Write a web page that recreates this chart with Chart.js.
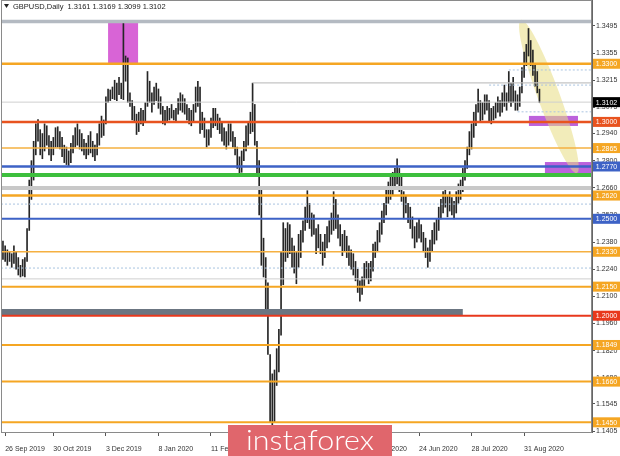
<!DOCTYPE html>
<html>
<head>
<meta charset="utf-8">
<script src="https://cdn.jsdelivr.net/npm/chart.js@4.4.0/dist/chart.umd.min.js"></script>
<style>
  body { margin: 0; background: #fff; }
  canvas { display: block; }
</style>
</head>
<body>
<canvas id="myChart" width="620" height="456"></canvas>
<script>
// daily bars, GBPUSD 25 Sep 2019 .. 8 Sep 2020 (low / high)
let lows = [
    1.2290, 1.2280, 1.2260, 1.2280, 1.2250, 1.2270, 1.2240, 1.2210, 1.2200, 1.2205,
    1.2200, 1.2280, 1.2440, 1.2600, 1.2700, 1.2830, 1.2900, 1.2830, 1.2810, 1.2850,
    1.2880, 1.2830, 1.2800, 1.2830, 1.2870, 1.2870, 1.2860, 1.2820, 1.2790, 1.2780,
    1.2770, 1.2790, 1.2840, 1.2870, 1.2880, 1.2860, 1.2850, 1.2830, 1.2810, 1.2830,
    1.2840, 1.2820, 1.2800, 1.2830, 1.2880, 1.2920, 1.2930, 1.2990, 1.3100, 1.3110,
    1.3120, 1.3115, 1.3110, 1.3140, 1.3120, 1.3115, 1.3210, 1.3100, 1.3080, 1.3010,
    1.3000, 1.2935, 1.2950, 1.2990, 1.2980, 1.3000, 1.3080, 1.3100, 1.3050, 1.3090,
    1.3110, 1.3070, 1.3040, 1.2990, 1.2985, 1.3000, 1.3010, 1.3020, 1.3010, 1.3000,
    1.3040, 1.3060, 1.3050, 1.3040, 1.3010, 1.2990, 1.2980, 1.3000, 1.3050, 1.3080,
    1.2940, 1.2960, 1.2920, 1.2870, 1.2880, 1.2920, 1.2970, 1.2980, 1.2960, 1.2940,
    1.2900, 1.2880, 1.2860, 1.2880, 1.2900, 1.2870, 1.2830, 1.2760, 1.2725, 1.2740,
    1.2800, 1.2850, 1.2880, 1.2940, 1.2950, 1.2880, 1.2730, 1.2520, 1.2260, 1.2200,
    1.2000, 1.1800, 1.1450, 1.1410, 1.1450, 1.1640, 1.1710, 1.1900, 1.2160, 1.2280,
    1.2300, 1.2320, 1.2250, 1.2220, 1.2165, 1.2250, 1.2300, 1.2380, 1.2440, 1.2480,
    1.2450, 1.2410, 1.2420, 1.2320, 1.2350, 1.2320, 1.2260, 1.2300, 1.2350, 1.2380,
    1.2420, 1.2440, 1.2450, 1.2400, 1.2360, 1.2310, 1.2330, 1.2300, 1.2260, 1.2240,
    1.2210, 1.2180, 1.2120, 1.2075, 1.2110, 1.2150, 1.2190, 1.2165, 1.2180, 1.2230,
    1.2300, 1.2330, 1.2380, 1.2420, 1.2480, 1.2520, 1.2580, 1.2600, 1.2620, 1.2650,
    1.2680, 1.2640, 1.2590, 1.2500, 1.2530, 1.2480, 1.2450, 1.2400, 1.2350, 1.2380,
    1.2400, 1.2380, 1.2330, 1.2300, 1.2250, 1.2280, 1.2330, 1.2370, 1.2390, 1.2440,
    1.2500, 1.2530, 1.2560, 1.2510, 1.2540, 1.2520, 1.2500, 1.2530, 1.2580, 1.2600,
    1.2640, 1.2700, 1.2760, 1.2830, 1.2860, 1.2920, 1.2980, 1.3050, 1.3000, 1.3010,
    1.3040, 1.3060, 1.3000, 1.2990, 1.3010, 1.3020, 1.3050, 1.3030, 1.3050, 1.3080,
    1.3060, 1.3100, 1.3080, 1.3100, 1.3060, 1.3060, 1.3080, 1.3150, 1.3230, 1.3290,
    1.3340, 1.3290, 1.3240, 1.3185, 1.3150, 1.3099
];
let highs = [
    1.2385, 1.2360, 1.2340, 1.2330, 1.2320, 1.2360, 1.2330, 1.2300, 1.2260, 1.2290,
    1.2300, 1.2450, 1.2700, 1.2800, 1.2900, 1.2990, 1.3012, 1.2960, 1.2940, 1.2990,
    1.2980, 1.2930, 1.2900, 1.2920, 1.2970, 1.2975, 1.2950, 1.2920, 1.2880, 1.2870,
    1.2850, 1.2890, 1.2930, 1.2970, 1.2990, 1.2960, 1.2940, 1.2910, 1.2890, 1.2930,
    1.2950, 1.2900, 1.2880, 1.2940, 1.2990, 1.3030, 1.3010, 1.3130, 1.3170, 1.3165,
    1.3180, 1.3215, 1.3200, 1.3230, 1.3200, 1.3514, 1.3340, 1.3330, 1.3150, 1.3110,
    1.3080, 1.3040, 1.3050, 1.3070, 1.3060, 1.3100, 1.3260, 1.3210, 1.3150, 1.3180,
    1.3200, 1.3170, 1.3130, 1.3080, 1.3060, 1.3080, 1.3070, 1.3090, 1.3060, 1.3070,
    1.3120, 1.3150, 1.3140, 1.3120, 1.3090, 1.3070, 1.3060, 1.3090, 1.3180, 1.3210,
    1.3180, 1.3050, 1.3020, 1.2960, 1.2960, 1.3020, 1.3070, 1.3070, 1.3040, 1.3020,
    1.3000, 1.2970, 1.2950, 1.2990, 1.2990, 1.2950, 1.2920, 1.2870, 1.2820, 1.2850,
    1.2900, 1.2980, 1.3000, 1.3050, 1.3200, 1.3090, 1.2900, 1.2800, 1.2650, 1.2400,
    1.2300, 1.2170, 1.1800, 1.1700, 1.1720, 1.1830, 1.1930, 1.2330, 1.2480, 1.2450,
    1.2480, 1.2470, 1.2400, 1.2360, 1.2330, 1.2420, 1.2440, 1.2490, 1.2560, 1.2645,
    1.2580, 1.2530, 1.2520, 1.2450, 1.2470, 1.2420, 1.2380, 1.2420, 1.2460, 1.2490,
    1.2530, 1.2640, 1.2600, 1.2520, 1.2470, 1.2420, 1.2440, 1.2410, 1.2360, 1.2340,
    1.2320, 1.2280, 1.2240, 1.2180, 1.2200, 1.2270, 1.2280, 1.2270, 1.2280, 1.2370,
    1.2380, 1.2440, 1.2480, 1.2540, 1.2580, 1.2650, 1.2690, 1.2730, 1.2740, 1.2760,
    1.2810, 1.2760, 1.2730, 1.2640, 1.2620, 1.2580, 1.2560, 1.2510, 1.2460, 1.2480,
    1.2500, 1.2470, 1.2430, 1.2400, 1.2350, 1.2390, 1.2440, 1.2480, 1.2500, 1.2560,
    1.2600, 1.2640, 1.2660, 1.2620, 1.2640, 1.2610, 1.2590, 1.2640, 1.2680, 1.2700,
    1.2760, 1.2800, 1.2870, 1.2950, 1.2990, 1.3050, 1.3090, 1.3170, 1.3110, 1.3100,
    1.3140, 1.3140, 1.3110, 1.3070, 1.3080, 1.3100, 1.3130, 1.3110, 1.3150, 1.3190,
    1.3150, 1.3260, 1.3200, 1.3230, 1.3160, 1.3140, 1.3180, 1.3280, 1.3360, 1.3400,
    1.3482, 1.3420, 1.3370, 1.3300, 1.3260, 1.3169
];

let dateIdx = [1, 23, 47, 71, 95, 119, 143, 166, 190, 214, 238];
let dateLabels = ['26 Sep 2019', '30 Oct 2019', '3 Dec 2019', '8 Jan 2020', '11 Feb 2020', '16 Mar 2020',
    '17 Apr 2020', '21 May 2020', '24 Jun 2020', '28 Jul 2020', '31 Aug 2020'];
let priceTicks = [1.3495, 1.3355, 1.3215, 1.3075, 1.2940, 1.2800, 1.2660, 1.2520, 1.2380, 1.2240,
    1.2100, 1.1960, 1.1820, 1.1680, 1.1545, 1.1405];

// horizontal levels drawn on the chart
let lineValues = [1.3518, 1.3300, 1.3268, 1.3201, 1.3190, 1.3102, 1.3052, 1.3000, 1.2865, 1.2770,
    1.2726, 1.2659, 1.2620, 1.2576, 1.2500, 1.2330, 1.2246, 1.2190, 1.2150, 1.2019,
    1.2000, 1.1849, 1.1660, 1.1450];
let lineFrom = [null, null, 231, 114, 222, null, 235, null, null, null,
    null, null, null, null, null, null, null, null, null, null,
    null, null, null, null];
let lineTo = [null, null, null, null, null, null, null, null, null, null,
    null, null, null, null, null, null, null, null, null, 210,
    null, null, null, null];
let lineColors = ['#b4bac2', '#f5a623', '#a9c4e0', '#c4c4c4', '#a9c4e0', '#cfcfcf', '#a9c4e0', '#e8531f', '#f5b041', '#3d62c6',
    '#3dbf3d', '#c8c8c8', '#f5a623', '#a9c4e0', '#3d62c6', '#f5b041', '#a9c4e0', '#cfcfcf', '#f5a623', '#6b7581',
    '#e8381c', '#f5a623', '#f5a623', '#f5a623'];
let lineWidths = [3.5, 2.5, 1, 1.2, 1, 1, 1, 2.5, 1.5, 2.5,
    4, 4, 2.5, 1, 2, 1.5, 1, 1, 2, 6,
    2, 2, 2, 2];
let lineDotted = [false, false, true, false, true, false, true, false, false, false,
    false, false, false, true, false, false, true, false, false, false,
    false, false, false, false];

// price tags on the right axis
let tagValues = [1.3300, 1.3102, 1.3000, 1.2865, 1.2770, 1.2620, 1.2500, 1.2330, 1.2150, 1.2000, 1.1849, 1.1660, 1.1450];
let tagColors = ['#f5a623', '#000000', '#e8531f', '#f5a623', '#3d62c6', '#f5a623', '#3d62c6', '#f5a623', '#f5a623', '#e8381c',
    '#f5a623', '#f5a623', '#f5a623'];

// rectangles (bar index from/to, price top/bottom)
let boxFrom = [48, 240.2, 247.5];
let boxTo = [61.7, 262.6, 269];
let boxTop = [1.3516, 1.3031, 1.2793];
let boxBottom = [1.3304, 1.2979, 1.2731];
let boxColors = ['rgba(214,92,212,0.95)', 'rgba(176,70,214,0.85)', 'rgba(176,70,214,0.85)'];

// yellow channel (bar index / price of both ends)
let bandX = [236.5, 262.1];
let bandY = [1.3526, 1.2736];

let bars = lows.map((lo, i) => ({ x: i, y: [lo, highs[i]] }));

Chart.defaults.font.family = "'Liberation Sans', Arial, sans-serif";
Chart.defaults.color = '#333';

let overlays = {
    id: 'overlays',
    beforeDatasetsDraw(chart) {
        let ctx = chart.ctx;
        let a = chart.chartArea;
        let xs = chart.scales.x;
        let ys = chart.scales.y;
        ctx.save();
        ctx.beginPath();
        ctx.rect(a.left, a.top, a.right - a.left, a.bottom - a.top);
        ctx.clip();
        for (let i = 0; i < boxFrom.length; i++) {
            let x0 = xs.getPixelForValue(boxFrom[i]);
            let x1 = xs.getPixelForValue(boxTo[i]);
            let y0 = ys.getPixelForValue(boxTop[i]);
            let y1 = ys.getPixelForValue(boxBottom[i]);
            ctx.fillStyle = boxColors[i];
            ctx.fillRect(x0, y0, x1 - x0, y1 - y0);
        }
        let bx0 = xs.getPixelForValue(bandX[0]), by0 = ys.getPixelForValue(bandY[0]);
        let bx1 = xs.getPixelForValue(bandX[1]), by1 = ys.getPixelForValue(bandY[1]);
        let len = Math.hypot(bx1 - bx0, by1 - by0);
        ctx.fillStyle = 'rgba(232,220,130,0.55)';
        ctx.beginPath();
        ctx.ellipse((bx0 + bx1) / 2, (by0 + by1) / 2, len / 2, 11, Math.atan2(by1 - by0, bx1 - bx0), 0, Math.PI * 2);
        ctx.fill();
        ctx.restore();
    },
    afterDatasetsDraw(chart) {
        let ctx = chart.ctx;
        let a = chart.chartArea;
        let xs = chart.scales.x;
        let ys = chart.scales.y;
        ctx.save();
        ctx.beginPath();
        ctx.rect(a.left, a.top, a.right - a.left, a.bottom - a.top);
        ctx.clip();
        for (let i = 0; i < lineValues.length; i++) {
            let y = ys.getPixelForValue(lineValues[i]);
            let x0 = lineFrom[i] == null ? a.left : xs.getPixelForValue(lineFrom[i]);
            let x1 = lineTo[i] == null ? a.right : xs.getPixelForValue(lineTo[i]);
            ctx.strokeStyle = lineColors[i];
            ctx.lineWidth = lineWidths[i];
            ctx.setLineDash(lineDotted[i] ? [2, 2] : []);
            ctx.beginPath();
            ctx.moveTo(x0, y);
            ctx.lineTo(x1, y);
            ctx.stroke();
        }
        ctx.restore();
    },
    afterDraw(chart) {
        let ctx = chart.ctx;
        let a = chart.chartArea;
        let ys = chart.scales.y;
        ctx.save();
        ctx.strokeStyle = '#8a8a8a';
        ctx.lineWidth = 1;
        ctx.strokeRect(a.left + 0.5, a.top + 0.5, a.right - a.left - 1, a.bottom - a.top);

        ctx.font = "7px 'Liberation Sans', Arial, sans-serif";
        ctx.textAlign = 'center';
        ctx.textBaseline = 'middle';
        tagValues.forEach((v, i) => {
            let y = ys.getPixelForValue(v);
            ctx.fillStyle = tagColors[i];
            ctx.fillRect(593, y - 5, 27, 10);
            ctx.fillStyle = '#fff';
            ctx.fillText(v.toFixed(4), 606.5, y + 0.5);
        });

        // header
        ctx.fillStyle = '#222';
        ctx.beginPath();
        ctx.moveTo(4, 4);
        ctx.lineTo(9, 4);
        ctx.lineTo(6.5, 8);
        ctx.closePath();
        ctx.fill();
        ctx.textAlign = 'left';
        ctx.font = "7.5px 'Liberation Sans', Arial, sans-serif";
        ctx.fillText('GBPUSD,Daily  1.3161 1.3169 1.3099 1.3102', 13, 6.5);

        // watermark
        ctx.fillStyle = '#e0666c';
        ctx.fillRect(228, 425, 164, 31);
        ctx.fillStyle = '#fff';
        ctx.font = "300 28px Lato, 'Open Sans', sans-serif";
        let w = ctx.measureText('instaforex').width;
        ctx.save();
        ctx.translate(310, 441);
        ctx.scale(128 / w, 1);
        ctx.textAlign = 'center';
        ctx.textBaseline = 'middle';
        ctx.fillText('instaforex', 0, 0);
        ctx.restore();
        ctx.restore();
    }
};

let myChart = new Chart(document.getElementById('myChart'), {
    type: 'bar',
    data: {
        datasets: [{
            data: bars,
            backgroundColor: '#262626',
            borderWidth: 0,
            barThickness: 1
        }]
    },
    options: {
        responsive: false,
        animation: false,
        layout: { padding: { left: 1, top: 0, right: 0, bottom: 0 } },
        plugins: {
            legend: { display: false },
            tooltip: { enabled: false }
        },
        scales: {
            x: {
                type: 'linear',
                min: -0.9,
                max: 269,
                offset: false,
                grid: { drawOnChartArea: false, offset: false, tickLength: 4, color: '#555' },
                border: { color: '#666' },
                ticks: {
                    align: 'start',
                    maxRotation: 0,
                    autoSkip: false,
                    padding: 9,
                    font: { size: 7 },
                    color: '#333',
                    callback: v => dateLabels[dateIdx.indexOf(v)]
                },
                afterBuildTicks: s => { s.ticks = dateIdx.map(v => ({ value: v })); },
                afterFit: s => { s.height = 24; s.paddingLeft = 0; s.paddingRight = 0; }
            },
            y: {
                position: 'right',
                min: 1.1400,
                max: 1.3629,
                grid: { drawOnChartArea: false, tickLength: 3, color: '#555' },
                border: { color: '#666' },
                ticks: {
                    autoSkip: false,
                    padding: 1,
                    font: { size: 7 },
                    color: '#333',
                    callback: v => v.toFixed(4)
                },
                afterBuildTicks: s => { s.ticks = priceTicks.map(v => ({ value: v })); },
                afterFit: s => { s.width = 28; s.paddingTop = 0; s.paddingBottom = 0; }
            }
        }
    },
    plugins: [overlays]
});
</script>
</body>
</html>
